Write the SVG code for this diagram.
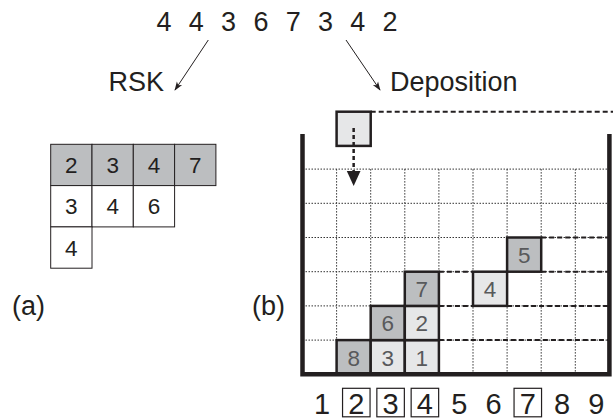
<svg xmlns="http://www.w3.org/2000/svg" width="613" height="420" viewBox="0 0 613 420">
<defs>
<style>
text{font-family:"Liberation Sans",Arial,sans-serif;}
.big{font-size:27px;fill:#231f20;}
.lbl{font-size:27px;fill:#231f20;text-anchor:middle;}
.num{font-size:29px;fill:#231f20;text-anchor:middle;}
.tab{font-size:22.5px;fill:#231f20;text-anchor:middle;}
.blk{font-size:22.5px;fill:#58595b;text-anchor:middle;}
.cell{stroke:#231f20;stroke-width:1;}
.dark{fill:#bcbec0;}
.light{fill:#e6e7e8;}
.wht{fill:#fff;}
.block{stroke:#231f20;stroke-width:2.5;}
.grid{stroke:#333;stroke-width:1;stroke-dasharray:1.5 1.5;fill:none;}
.dash{stroke:#231f20;stroke-width:2;stroke-dasharray:5 3;fill:none;}
.thin{stroke:#231f20;stroke-width:1;fill:none;}
.box{fill:none;stroke:#231f20;stroke-width:1.2;}
</style>
<marker id="ah" viewBox="0 0 10 10" refX="9" refY="5" markerWidth="9" markerHeight="9" markerUnits="userSpaceOnUse" orient="auto">
<path d="M0,1.5 L10,5 L0,8.5 L2.5,5 Z" fill="#231f20"/>
</marker>
</defs>

<g id="sequence">
<text class="lbl" x="164" y="30.7">4</text>
<text class="lbl" x="196.3" y="30.7">4</text>
<text class="lbl" x="228.6" y="30.7">3</text>
<text class="lbl" x="260.9" y="30.7">6</text>
<text class="lbl" x="293.2" y="30.7">7</text>
<text class="lbl" x="325.5" y="30.7">3</text>
<text class="lbl" x="357.8" y="30.7">4</text>
<text class="lbl" x="390.1" y="30.7">2</text>
</g>

<g id="rsk-label"><text class="big" x="108.5" y="90.7">RSK</text></g>
<g id="deposition-label"><text class="big" x="390" y="90.7">Deposition</text></g>
<g id="label-a"><text class="big" x="12" y="315">(a)</text></g>
<g id="label-b"><text class="big" x="252" y="315">(b)</text></g>

<g id="connectors">
<line class="thin" x1="208.3" y1="40" x2="175" y2="90" marker-end="url(#ah)"/>
<line class="thin" x1="346" y1="40" x2="380" y2="90" marker-end="url(#ah)"/>
</g>

<g id="tableau">
<rect class="cell dark" x="50.7" y="144.3" width="41.3" height="41.3"/>
<rect class="cell dark" x="92" y="144.3" width="41.3" height="41.3"/>
<rect class="cell dark" x="133.3" y="144.3" width="41.3" height="41.3"/>
<rect class="cell dark" x="174.6" y="144.3" width="41.3" height="41.3"/>
<rect class="cell wht" x="50.7" y="185.6" width="41.3" height="41.3"/>
<rect class="cell wht" x="92" y="185.6" width="41.3" height="41.3"/>
<rect class="cell wht" x="133.3" y="185.6" width="41.3" height="41.3"/>
<rect class="cell wht" x="50.7" y="226.9" width="41.3" height="41.3"/>
<text class="tab" x="71.35" y="173">2</text>
<text class="tab" x="112.65" y="173">3</text>
<text class="tab" x="153.95" y="173">4</text>
<text class="tab" x="195.25" y="173">7</text>
<text class="tab" x="71.35" y="214.3">3</text>
<text class="tab" x="112.65" y="214.3">4</text>
<text class="tab" x="153.95" y="214.3">6</text>
<text class="tab" x="71.35" y="255.6">4</text>
</g>

<g id="grid">
<path class="grid" d="M302.5,169.1H609.4 M302.5,203.3H609.4 M302.5,237.5H609.4 M302.5,271.7H609.4 M302.5,305.9H609.4 M302.5,340.1H609.4"/>
<path class="grid" d="M336.6,169.1V374.3 M370.7,169.1V374.3 M404.8,169.1V374.3 M438.9,169.1V374.3 M473,169.1V374.3 M507.1,169.1V374.3 M541.2,169.1V374.3 M575.3,169.1V374.3"/>
</g>

<g id="dashed-levels">
<path class="dash" d="M370.7,111.7H613 M541.2,237.5H609.4 M438.9,271.7H473 M541.2,271.7H609.4 M438.9,305.9H473 M507.1,305.9H609.4 M438.9,340.1H609.4"/>
</g>

<g id="block-8"><rect class="block dark" x="336.6" y="340.1" width="34.1" height="34.2"/><text class="blk" x="353.65" y="365.5">8</text></g>
<g id="block-3"><rect class="block light" x="370.7" y="340.1" width="34.1" height="34.2"/><text class="blk" x="387.75" y="365.5">3</text></g>
<g id="block-1"><rect class="block light" x="404.8" y="340.1" width="34.1" height="34.2"/><text class="blk" x="421.85" y="365.5">1</text></g>
<g id="block-6"><rect class="block dark" x="370.7" y="305.9" width="34.1" height="34.2"/><text class="blk" x="387.75" y="331.3">6</text></g>
<g id="block-2"><rect class="block light" x="404.8" y="305.9" width="34.1" height="34.2"/><text class="blk" x="421.85" y="331.3">2</text></g>
<g id="block-7"><rect class="block dark" x="404.8" y="271.7" width="34.1" height="34.2"/><text class="blk" x="421.85" y="297.1">7</text></g>
<g id="block-4"><rect class="block light" x="473" y="271.7" width="34.1" height="34.2"/><text class="blk" x="490.05" y="297.1">4</text></g>
<g id="block-5"><rect class="block dark" x="507.1" y="237.5" width="34.1" height="34.2"/><text class="blk" x="524.15" y="262.9">5</text></g>

<g id="falling-block">
<rect class="block light" x="336.6" y="111.7" width="34.1" height="34.2"/>
<line x1="353.65" y1="128" x2="353.65" y2="172" stroke="#231f20" stroke-width="2.5" stroke-dasharray="4 3"/>
<polygon points="346.8,171 360.5,171 353.65,186" fill="#231f20"/>
</g>

<g id="walls">
<path d="M302.5,134V374.3H609.4V134" fill="none" stroke="#231f20" stroke-width="4.5" stroke-linejoin="miter"/>
</g>

<g id="columns">
<text class="num" x="322" y="414">1</text>
<rect class="box" x="342.55" y="388.3" width="27.5" height="28.5"/>
<text class="num" x="356.3" y="414">2</text>
<rect class="box" x="376.85" y="388.3" width="27.5" height="28.5"/>
<text class="num" x="390.6" y="414">3</text>
<rect class="box" x="411.15" y="388.3" width="27.5" height="28.5"/>
<text class="num" x="424.9" y="414">4</text>
<text class="num" x="459.2" y="414">5</text>
<text class="num" x="493.5" y="414">6</text>
<rect class="box" x="514.05" y="388.3" width="27.5" height="28.5"/>
<text class="num" x="527.8" y="414">7</text>
<text class="num" x="562.1" y="414">8</text>
<text class="num" x="596.4" y="414">9</text>
</g>
</svg>
